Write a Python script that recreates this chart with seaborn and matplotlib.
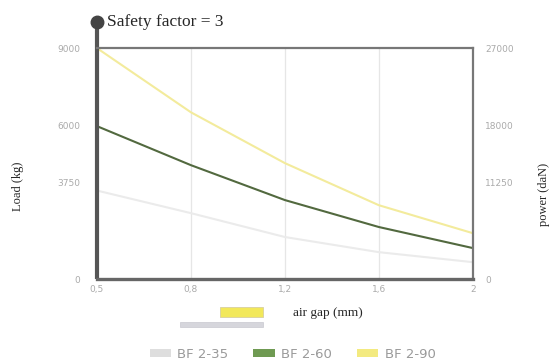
import numpy as np
import pandas as pd
import seaborn as sns
import matplotlib.pyplot as plt
from matplotlib.patches import Patch, Rectangle

# air gap (mm) and load (kg)
air_gap = [0.5, 0.8, 1.2, 1.6, 2.0]
bf_2_35 = [3450, 2570, 1640, 1050, 660]
bf_2_60 = [5960, 4440, 3080, 2030, 1210]
bf_2_90 = [9000, 6500, 4520, 2880, 1790]

x_ticks = [0.5, 0.8, 1.2, 1.6, 2.0]
x_labels = ['0,5', '0,8', '1,2', '1,6', '2']
left_ticks = [0, 3750, 6000, 9000]
right_ticks = [0, 11250, 18000, 27000]
series_names = ['BF 2-35', 'BF 2-60', 'BF 2-90']
line_colors = ['#ebebeb', '#52693f', '#f3eb9c']
patch_colors = ['#dedede', '#6f9a52', '#f3ea80']

df = pd.DataFrame({
    'gap': air_gap * 3,
    'load': bf_2_35 + bf_2_60 + bf_2_90,
    'model': [n for n in series_names for _ in air_gap],
})

sns.set_style('white')
plt.rcParams['font.family'] = ['DejaVu Sans']

fig = plt.figure(figsize=(5.51, 3.62), dpi=100)
ax = fig.add_axes([0.176, 0.229, 0.682, 0.638])

# ticks on the x axis are evenly spaced although values are not
fwd = lambda v: np.interp(v, x_ticks, [0, 1, 2, 3, 4])
inv = lambda v: np.interp(v, [0, 1, 2, 3, 4], x_ticks)
ax.set_xscale('function', functions=(fwd, inv))

sns.lineplot(data=df, x='gap', y='load', hue='model', palette=dict(zip(series_names, line_colors)),
             linewidth=1.5, legend=False, ax=ax)

ax.set_xlim(0.5, 2.0)
ax.set_ylim(0, 9000)
ax.set_xticks(x_ticks)
ax.set_xticklabels(x_labels)
ax.set_yticks(left_ticks)
ax.set_yticklabels([str(t) for t in left_ticks])
ax.tick_params(colors='#aaaaaa', labelsize=6.5, length=0)
ax.tick_params(axis='y', pad=12)
ax.tick_params(axis='x', pad=4)
ax.grid(axis='x', color='#e6e6e6', linewidth=0.9)
ax.set_xlabel('')
ax.set_ylabel('')

for side in ['top', 'right']:
    ax.spines[side].set_color('#777777')
    ax.spines[side].set_linewidth(1.6)
ax.spines['bottom'].set_color('#666666')
ax.spines['bottom'].set_linewidth(2.4)
ax.spines['left'].set_visible(False)

# left spine extended up to the marker
ax.plot([0, 0], [0, 1.113], transform=ax.transAxes, color='#555555', lw=3, clip_on=False,
        solid_capstyle='butt')
ax.plot([0], [1.113], transform=ax.transAxes, marker='o', ms=9, color='#444444', clip_on=False)

ax2 = ax.twinx()
ax2.set_ylim(0, 27000)
ax2.set_yticks(right_ticks)
ax2.set_yticklabels([str(t) for t in right_ticks])
ax2.tick_params(colors='#aaaaaa', labelsize=6.5, length=0, pad=9)
for s in ax2.spines.values():
    s.set_visible(False)

serif = ['Liberation Serif', 'DejaVu Serif']
fig.text(0.194, 0.939, 'Safety factor = 3', family=serif, fontsize=12.5, va='center', ha='left')
fig.text(0.032, 0.486, 'Load (kg)', family=serif, fontsize=9, rotation=90, va='center', ha='center')
fig.text(0.987, 0.463, 'power (daN)', family=serif, fontsize=9, rotation=90, va='center', ha='center')
fig.text(0.532, 0.135, 'air gap (mm)', family=serif, fontsize=9.5, va='center', ha='left')

# small scanned swatches next to the axis title
fig.patches.append(Rectangle((0.40, 0.124), 0.077, 0.028, transform=fig.transFigure,
                             facecolor='#f2e85a', edgecolor='#d8d0a0', lw=0.6))
fig.patches.append(Rectangle((0.327, 0.097), 0.150, 0.014, transform=fig.transFigure,
                             facecolor='#d6d6dc', edgecolor='#c0c0c8', lw=0.4))

handles = [Patch(facecolor=c, edgecolor='none') for c in patch_colors]
fig.legend(handles, series_names, loc='center', bbox_to_anchor=(0.531, 0.022), ncol=3, frameon=False,
           fontsize=9.5, labelcolor='#9a9a9a', handlelength=1.6, handleheight=0.55,
           columnspacing=1.9, handletextpad=0.5, borderpad=0, borderaxespad=0)

fig.savefig('out.png', dpi=100)
